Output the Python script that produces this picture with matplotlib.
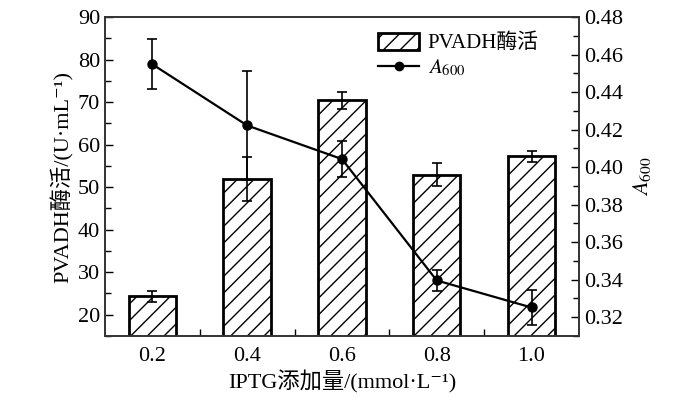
import numpy as np
import matplotlib
matplotlib.use("Agg")
import matplotlib.pyplot as plt
from matplotlib.ticker import MultipleLocator, FixedLocator, FormatStrFormatter
from matplotlib.lines import Line2D

plt.rcParams['font.family'] = ['Liberation Serif', 'Noto Sans CJK SC', 'DejaVu Serif']
plt.rcParams['mathtext.fontset'] = 'stix'
plt.rcParams['hatch.linewidth'] = 1.0

# data
iptg = ["0.2", "0.4", "0.6", "0.8", "1.0"]
activity = [24.3, 51.9, 70.4, 52.9, 57.3]
activity_err = [1.3, 5.2, 2.0, 2.7, 1.3]
a600 = [0.4548, 0.4222, 0.4043, 0.3396, 0.3252]
a600_err = [0.0134, 0.0290, 0.0096, 0.0058, 0.0092]

x = np.arange(len(iptg))

fig = plt.figure(figsize=(7, 3.96), dpi=100)
ax = fig.add_axes([0.15, 0.1515, 0.677, 0.8055])
ax2 = ax.twinx()

bars = ax.bar(x, activity, width=0.5, color='white', edgecolor='black',
              linewidth=2, hatch='//', zorder=2)
ax.errorbar(x, activity, yerr=activity_err, fmt='none', ecolor='black',
            elinewidth=1.2, capsize=3.5, capthick=1.2, zorder=3)

ax2.errorbar(x, a600, yerr=a600_err, color='black', marker='o',
             markersize=6.5, linewidth=1.6, elinewidth=1.2, capsize=3.5,
             capthick=1.2)

ax.set_xlim(-0.5, 4.5)
ax.set_ylim(15, 90)
ax2.set_ylim(0.31, 0.48)

ax.set_xticks(x)
ax.set_xticklabels(iptg)
ax.xaxis.set_minor_locator(FixedLocator(x[:-1] + 0.5))
ax.tick_params(axis='x', which='major', length=0, pad=8, labelsize=16)
ax.tick_params(axis='x', which='minor', direction='in', length=5, width=1)

ax.yaxis.set_major_locator(MultipleLocator(10))
ax.yaxis.set_minor_locator(MultipleLocator(5))
ax.tick_params(axis='y', which='major', direction='in', length=6, width=1, labelsize=16)
ax.tick_params(axis='y', which='minor', direction='in', length=4, width=1)

ax2.yaxis.set_major_locator(MultipleLocator(0.02))
ax2.yaxis.set_minor_locator(MultipleLocator(0.01))
ax2.tick_params(axis='y', which='major', direction='in', length=6, width=1, labelsize=16)
ax2.tick_params(axis='y', which='minor', direction='in', length=4, width=1)
ax2.yaxis.set_major_formatter(FormatStrFormatter('%.2f'))

for a in (ax, ax2):
    for s in a.spines.values():
        s.set_linewidth(1.2)
        s.set_color('#333333')

ax.set_xlabel('IPTG添加量/(mmol·L⁻¹)', fontsize=16, labelpad=3)
ax.set_ylabel('PVADH酶活/(U·mL⁻¹)', fontsize=16, labelpad=3)
ax2.set_ylabel('$A_{600}$', fontsize=16, labelpad=6)

line_handle = Line2D([], [], color='black', marker='o', markersize=6, linewidth=1.6)
ax.legend([bars, line_handle], ['PVADH酶活', '$A_{600}$'], loc='upper right',
          bbox_to_anchor=(0.955, 1.01), frameon=False, fontsize=15,
          handlelength=2.0, handleheight=0.9, labelspacing=0.2,
          handletextpad=0.4)

fig.savefig('out.png', dpi=100)
